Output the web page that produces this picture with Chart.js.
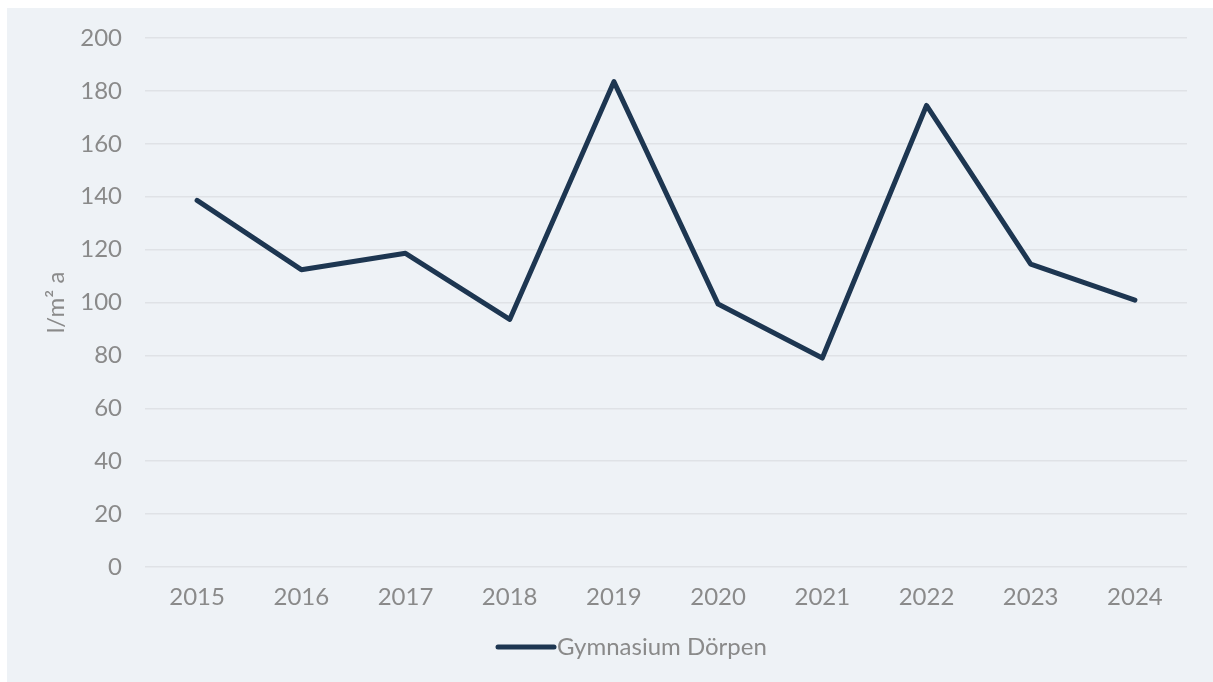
<!DOCTYPE html>
<html>
<head>
<meta charset="utf-8">
<script src="https://cdn.jsdelivr.net/npm/chart.js@4/dist/chart.umd.min.js"></script>
<style>
  html, body { margin: 0; padding: 0; background: #ffffff; }
  #panel { position: absolute; left: 7px; top: 8px; width: 1206px; height: 674px; background: #eef2f6; }
  #c { position: absolute; left: 0; top: 0; display: block; }
</style>
</head>
<body>
<div id="panel"></div>
<canvas id="c" width="1213" height="682"></canvas>
<script>
const categories = ["2015", "2016", "2017", "2018", "2019", "2020", "2021", "2022", "2023", "2024"];
const seriesName = "Gymnasium Dörpen";
const seriesValues = [138.6, 112.4, 118.6, 93.6, 183.5, 99.4, 79.0, 174.5, 114.5, 100.9];
const yTicks = [0, 20, 40, 60, 80, 100, 120, 140, 160, 180, 200];
const yTitle = "l/m² a";

const gray = "#8a8a8a";
const lineColor = "#1d3651";
const fontFamily = "Lato, 'Open Sans', sans-serif";
const font = { family: fontFamily, size: 24 };

// Legend drawn on the canvas, below the x axis
const bottomLegend = {
  id: "bottomLegend",
  afterDraw(chart) {
    const ctx = chart.ctx;
    const ds = chart.data.datasets[0];
    const y = 647;
    const x0 = 498, x1 = 554;
    ctx.save();
    ctx.strokeStyle = ds.borderColor;
    ctx.lineWidth = ds.borderWidth;
    ctx.lineCap = "round";
    ctx.beginPath();
    ctx.moveTo(x0, y);
    ctx.lineTo(x1, y);
    ctx.stroke();
    ctx.fillStyle = gray;
    ctx.font = "24px " + fontFamily;
    ctx.textAlign = "left";
    ctx.textBaseline = "middle";
    ctx.fillText(ds.label, x1 + 3, y);
    ctx.restore();
  }
};

new Chart(document.getElementById("c"), {
  type: "line",
  data: {
    labels: categories,
    datasets: [{
      label: seriesName,
      data: seriesValues,
      borderColor: lineColor,
      backgroundColor: lineColor,
      borderWidth: 5,
      borderCapStyle: "round",
      borderJoinStyle: "round",
      pointRadius: 0,
      pointHoverRadius: 0,
      tension: 0,
      fill: false
    }]
  },
  plugins: [bottomLegend],
  options: {
    responsive: false,
    animation: false,
    devicePixelRatio: 1,
    layout: { padding: { left: 0, right: 26, top: 38, bottom: 0 } },
    plugins: {
      tooltip: { enabled: false },
      legend: { display: false }
    },
    scales: {
      x: {
        offset: true,
        grid: { display: false, drawTicks: false },
        border: { display: false },
        ticks: { color: gray, font: font, padding: 16, maxRotation: 0 },
        afterFit: (s) => { s.height = 115; }
      },
      y: {
        min: 0,
        max: 200,
        afterBuildTicks: (s) => { s.ticks = yTicks.map(v => ({ value: v })); },
        grid: { color: "#dfe2e6", lineWidth: 1.5, drawTicks: false },
        border: { display: false },
        ticks: { color: gray, font: font, padding: 23 },
        title: {
          display: true,
          text: yTitle,
          color: gray,
          font: font,
          padding: { top: 41.5, bottom: 0 }
        },
        afterFit: (s) => { s.width = 145; }
      }
    }
  }
});
</script>
</body>
</html>
